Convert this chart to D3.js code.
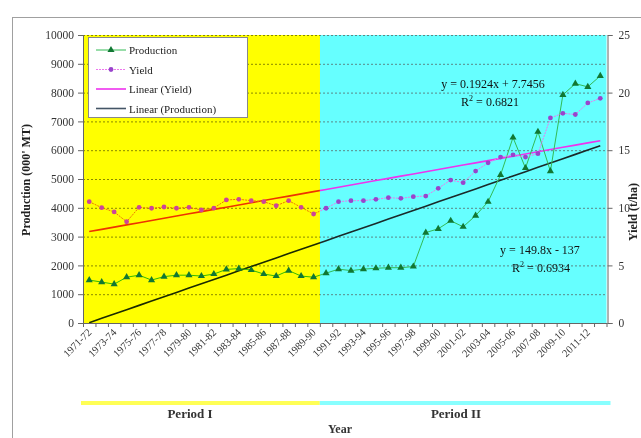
<!DOCTYPE html>
<html><head><meta charset="utf-8">
<script src="https://cdn.jsdelivr.net/npm/d3@7"></script>
<style>
body{margin:0;background:#fff;}
svg{display:block;font-family:"Liberation Serif","DejaVu Serif",serif;}
</style></head>
<body><svg id="c" width="641" height="438"></svg>
<script>
const categories = [];
for (let y = 1971; y <= 2012; y++) categories.push(y + "-" + String((y + 1) % 100).padStart(2, "0"));
const tickLabels = categories.filter((d, i) => i % 2 === 0 && i < 41);

const production = [1490,1420,1350,1590,1660,1490,1610,1660,1660,1630,1700,1860,1890,1840,1700,1630,1820,1630,1590,
  1730,1870,1820,1870,1900,1920,1920,1960,3140,3270,3550,3340,3730,4210,5140,6440,5380,6640,5270,7920,8310,8200,8580];
const yieldVals = [10.53,10.01,9.64,8.79,10.04,9.96,10.07,9.96,10.04,9.81,9.98,10.68,10.74,10.62,10.53,10.18,10.62,10.04,9.46,
  9.96,10.53,10.62,10.62,10.74,10.88,10.82,10.97,11.02,11.69,12.41,12.18,13.19,13.9,14.4,14.6,14.4,14.7,17.8,18.2,18.1,19.1,19.5];
const prodTrend = {slope: 149.8, intercept: -137};
const yieldTrend = {slope: 0.1924, intercept: 7.7456};
const leftTicks = [0,1000,2000,3000,4000,5000,6000,7000,8000,9000,10000];
const rightTicks = [0,5,10,15,20,25];
const periods = [{name: "Period I", start: 0, end: 19}, {name: "Period II", start: 19, end: 42}];
const legendItems = ["Production", "Yield", "Linear (Yield)", "Linear (Production)"];

const svg = d3.select("#c");
const L = 83, R = 606.5, T = 35, B = 323;
const x = d3.scaleBand().domain(categories).range([L, R]).padding(0);
const bw = x.bandwidth();
const cx = c => x(c) + bw / 2;
const yL = d3.scaleLinear().domain([0, 10000]).range([B, T]);
const yR = d3.scaleLinear().domain([0, 25]).range([B, T]);

// outer frame
svg.append("rect").attr("x", 12.5).attr("y", 17.5).attr("width", 640).attr("height", 430)
  .attr("fill", "none").attr("stroke", "#a0a0a0");

const xb = i => i >= categories.length ? R : x(categories[i]);
svg.append("rect").attr("x", xb(19)).attr("y", T).attr("width", R - xb(19)).attr("height", B - T).attr("fill", "#66ffff");
svg.append("rect").attr("x", L).attr("y", T).attr("width", xb(19) - L).attr("height", B - T).attr("fill", "#ffff00");

// gridlines
svg.append("g").selectAll("line").data(leftTicks.slice(1)).join("line")
  .attr("x1", L).attr("x2", R).attr("y1", d => yL(d) + 0.5).attr("y2", d => yL(d) + 0.5)
  .attr("stroke", "#555").attr("stroke-width", 1).attr("stroke-dasharray", "2,2").attr("opacity", 0.7);

// trend lines
const idx = d3.range(1, categories.length + 1);
svg.append("path").datum(idx)
  .attr("d", d3.line().x(i => cx(categories[i - 1])).y(i => yL(Math.max(0, prodTrend.slope * i + prodTrend.intercept))))
  .attr("fill", "none").attr("stroke", "#1a2a2a").attr("stroke-width", 1.6);
svg.append("path").datum(idx)
  .attr("d", d3.line().x(i => cx(categories[i - 1])).y(i => yR(yieldTrend.slope * i + yieldTrend.intercept)))
  .attr("fill", "none").attr("stroke", "#ee33ee").attr("stroke-width", 1.6);

// series lines
svg.append("path").datum(production)
  .attr("d", d3.line().x((d, i) => cx(categories[i])).y(d => yL(d)))
  .attr("fill", "none").attr("stroke", "#33bb55").attr("stroke-width", 1);
svg.append("path").datum(yieldVals)
  .attr("d", d3.line().x((d, i) => cx(categories[i])).y(d => yR(d)))
  .attr("fill", "none").attr("stroke", "#ee77ee").attr("stroke-width", 1).attr("stroke-dasharray", "2,1");

// multiply-blend yellow over period I
svg.append("rect").attr("x", L).attr("y", T).attr("width", xb(19) - L).attr("height", B - T)
  .attr("fill", "#ffff00").style("mix-blend-mode", "multiply");

// markers
const tri = d3.symbol().type(d3.symbolTriangle).size(22);
svg.append("g").selectAll("path").data(production).join("path")
  .attr("transform", (d, i) => `translate(${cx(categories[i])},${yL(d)})`)
  .attr("d", tri).attr("fill", "#117733");
svg.append("g").selectAll("circle").data(yieldVals).join("circle")
  .attr("cx", (d, i) => cx(categories[i])).attr("cy", d => yR(d)).attr("r", 2.4)
  .attr("fill", (d, i) => i < 19 ? "#cc4499" : "#9944cc");

// axes
const axL = svg.append("g").attr("transform", `translate(${L},0)`)
  .call(d3.axisLeft(yL).tickValues(leftTicks).tickSize(5).tickPadding(4).tickFormat(d3.format("d")));
const axR = svg.append("g").attr("transform", `translate(${R + 1},0)`)
  .call(d3.axisRight(yR).tickValues(rightTicks).tickSize(5).tickPadding(6).tickFormat(d3.format("d")));
[axL, axR].forEach(a => {
  a.select(".domain").attr("stroke", "#666");
  a.selectAll(".tick line").attr("stroke", "#666");
  a.selectAll("text").attr("font-family", "Liberation Serif").attr("font-size", 11.5).attr("fill", "#333");
});
const axX = svg.append("g").attr("transform", `translate(0,${B})`);
axX.append("line").attr("x1", L).attr("x2", R + 1).attr("y1", 0.5).attr("y2", 0.5).attr("stroke", "#666");
axX.selectAll("line.t").data(categories.concat(["end"])).join("line").attr("class", "t")
  .attr("x1", (d, i) => xb(i) + 0.5).attr("x2", (d, i) => xb(i) + 0.5).attr("y1", 0).attr("y2", 4).attr("stroke", "#666");
axX.selectAll("text").data(tickLabels).join("text")
  .attr("transform", d => `translate(${cx(d) + 3},${10}) rotate(-45)`)
  .attr("text-anchor", "end").attr("font-size", 10.5).attr("fill", "#333").text(d => d);

// axis titles
svg.append("text").attr("transform", "translate(30,180) rotate(-90)").attr("text-anchor", "middle")
  .attr("font-weight", "bold").attr("font-size", 12).attr("fill", "#222").text("Production (000' MT)");
svg.append("text").attr("transform", "translate(637,212) rotate(-90)").attr("text-anchor", "middle")
  .attr("font-weight", "bold").attr("font-size", 12).attr("fill", "#222").text("Yield (t/ha)");

// equations
const eq = svg.append("g").attr("font-size", 12).attr("fill", "#111").attr("text-anchor", "middle");
eq.append("text").attr("x", 493).attr("y", 88).text(`y = ${yieldTrend.slope}x + ${yieldTrend.intercept}`);
eq.append("text").attr("x", 490).attr("y", 106).html('R<tspan dy="-5" font-size="8">2</tspan><tspan dy="5"> = 0.6821</tspan>');
eq.append("text").attr("x", 540).attr("y", 254).text(`y = ${prodTrend.slope}x - ${Math.abs(prodTrend.intercept)}`);
eq.append("text").attr("x", 541).attr("y", 272).html('R<tspan dy="-5" font-size="8">2</tspan><tspan dy="5"> = 0.6934</tspan>');

// legend
const lg = svg.append("g");
lg.append("rect").attr("x", 88.5).attr("y", 37.5).attr("width", 159).attr("height", 80).attr("fill", "#fff").attr("stroke", "#888");
const ly = i => 50 + i * 19.5;
lg.selectAll("text").data(legendItems).join("text").attr("x", 129).attr("y", (d, i) => ly(i) + 4)
  .attr("font-size", 11).attr("fill", "#222").text(d => d);
lg.append("line").attr("x1", 96).attr("x2", 126).attr("y1", ly(0)).attr("y2", ly(0)).attr("stroke", "#33bb55");
lg.append("path").attr("transform", `translate(111,${ly(0)})`).attr("d", tri).attr("fill", "#117733");
lg.append("line").attr("x1", 96).attr("x2", 126).attr("y1", ly(1)).attr("y2", ly(1)).attr("stroke", "#ee77ee").attr("stroke-dasharray", "2,1");
lg.append("circle").attr("cx", 111).attr("cy", ly(1)).attr("r", 2.4).attr("fill", "#9944cc");
lg.append("line").attr("x1", 96).attr("x2", 126).attr("y1", ly(2)).attr("y2", ly(2)).attr("stroke", "#ee33ee").attr("stroke-width", 1.6);
lg.append("line").attr("x1", 96).attr("x2", 126).attr("y1", ly(3)).attr("y2", ly(3)).attr("stroke", "#445566").attr("stroke-width", 1.6);

// period bars
const pColors = ["#ffff55", "#88ffff"];
const pg = svg.append("g");
periods.forEach((p, k) => {
  const x0 = k === 0 ? L - 2 : xb(p.start), x1 = k === 0 ? xb(p.end) : R + 4;
  pg.append("rect").attr("x", x0).attr("y", 401).attr("width", x1 - x0).attr("height", 4).attr("fill", pColors[k]);
  pg.append("text").attr("x", k === 0 ? 190 : 456).attr("y", 418).attr("text-anchor", "middle")
    .attr("font-weight", "bold").attr("font-size", 13).attr("fill", "#333").text(p.name);
});
svg.append("text").attr("x", 340).attr("y", 433).attr("text-anchor", "middle")
  .attr("font-weight", "bold").attr("font-size", 12).attr("fill", "#333").text("Year");
</script></body></html>
